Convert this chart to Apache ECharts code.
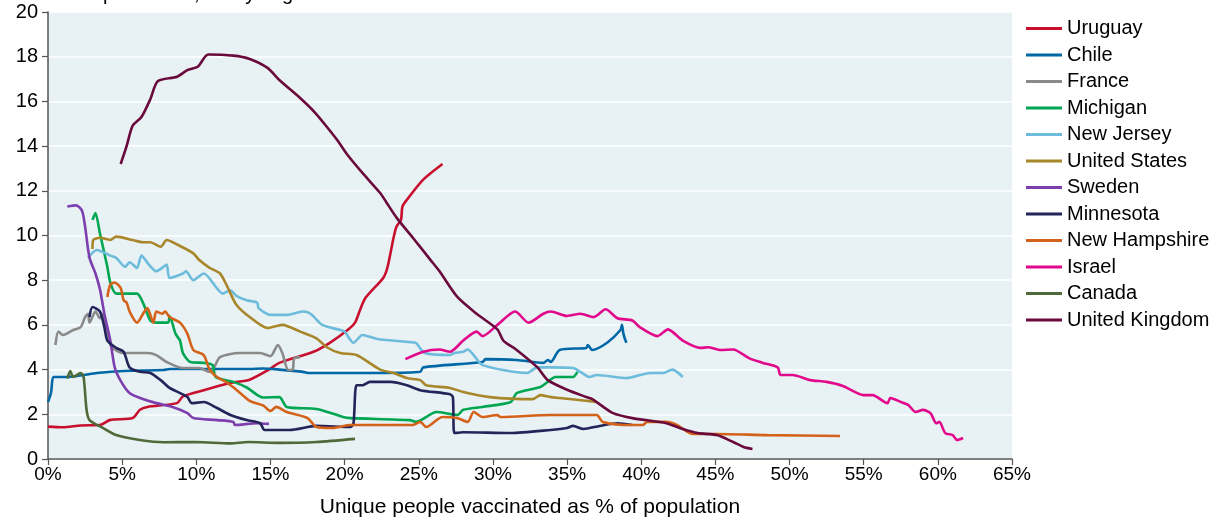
<!DOCTYPE html>
<html>
<head>
<meta charset="utf-8">
<script src="https://cdn.jsdelivr.net/npm/echarts@6/dist/echarts.min.js"></script>
<style>html,body{margin:0;padding:0;background:#fff;}#chart{width:1220px;height:521px;}</style>
</head>
<body>
<div id="chart"></div>
<script>
const seriesNames = ['Uruguay','Chile','France','Michigan','New Jersey','United States','Sweden','Minnesota','New Hampshire','Israel','Canada','United Kingdom'];
const xTickValues = [0,5,10,15,20,25,30,35,40,45,50,55,60,65];
const yTickValues = [0,2,4,6,8,10,12,14,16,18,20];

const uruguay = [[0,1.45],[1,1.42],[2.2,1.5],[3.5,1.52],[4.2,1.75],[5.7,1.83],[6.2,2.2],[6.7,2.33],[8.7,2.5],[9.1,2.8],[10.5,3.08],[12.3,3.4],[13.6,3.55],[14.9,4.0],[15.6,4.3],[17.9,4.8],[19.0,5.2],[20.2,5.77],[20.7,6.1],[21.0,6.6],[21.4,7.2],[22.6,8.1],[22.9,8.6],[23.3,9.9],[23.5,10.4],[23.8,10.7],[23.9,11.3],[24.2,11.6],[25.3,12.5],[26.6,13.2]];
const chile = [[0,2.55],[0.2,2.95],[0.4,3.67],[1.3,3.67],[2.4,3.76],[3.3,3.85],[5.1,3.94],[7.8,3.98],[8.2,4.03],[13.6,4.03],[14.5,4.05],[15.6,4.0],[17.2,3.9],[17.5,3.85],[22.6,3.85],[25.1,3.9],[25.3,4.1],[29.3,4.34],[29.5,4.47],[31.6,4.43],[33.4,4.3],[33.7,4.43],[33.9,4.34],[34.5,4.88],[36.3,4.97],[36.4,5.1],[36.7,4.88],[37.7,5.2],[38.6,5.77],[38.7,6.0],[38.8,5.6],[39.0,5.2]];
const france = [[0.5,5.1],[0.7,5.7],[1.0,5.55],[1.7,5.77],[2.2,5.9],[2.5,6.35],[2.7,6.5],[2.8,6.1],[3.2,6.6],[3.5,6.3],[3.7,6.5],[4.0,5.6],[4.3,5.0],[5.1,4.74],[6.0,4.74],[6.7,4.74],[7.3,4.65],[8.0,4.34],[9.1,4.07],[10.2,4.07],[10.9,3.9],[11.2,4.1],[11.6,4.56],[12.9,4.74],[14.3,4.74],[15.0,4.6],[15.5,5.1],[15.8,4.74],[16.2,3.98],[16.5,4.0],[16.6,4.5],[17.0,4.56]];
const michigan = [[3.0,10.7],[3.2,11.0],[3.5,10.1],[4.0,8.6],[4.2,7.9],[4.6,7.4],[6.0,7.4],[6.4,7.0],[6.9,6.2],[7.3,6.1],[8.1,6.1],[8.2,6.4],[8.6,5.6],[8.9,5.3],[9.1,4.74],[9.6,4.34],[10.5,4.3],[11.1,4.2],[11.3,3.67],[12.5,3.45],[13.4,3.2],[14.5,2.75],[15.6,2.77],[16.1,2.33],[18.1,2.24],[19.9,1.88],[20.4,1.83],[24.4,1.74],[24.8,1.66],[26.2,2.1],[27.6,1.97],[28.0,2.2],[29.3,2.33],[31.2,2.55],[31.6,2.95],[33.2,3.22],[33.7,3.45],[34.2,3.67],[35.4,3.67],[35.7,3.9]];
const newJersey = [[2.7,9.0],[3.3,9.35],[4.2,9.1],[4.6,9.0],[5.2,8.6],[5.5,8.8],[6.0,8.55],[6.3,9.1],[6.8,8.7],[7.3,8.4],[7.7,8.55],[8.0,8.7],[8.2,8.1],[9.1,8.3],[9.3,8.4],[9.8,8.0],[10.5,8.3],[11.8,7.4],[12.3,7.55],[12.7,7.3],[13.4,7.1],[14.1,7.0],[14.2,6.75],[15.0,6.45],[16.1,6.45],[17.2,6.6],[17.7,6.5],[18.5,6.0],[19.7,5.77],[20.0,5.7],[20.6,5.2],[21.2,5.55],[22.2,5.37],[24.4,5.23],[24.8,5.2],[25.4,4.74],[27.1,4.65],[27.4,4.74],[28.0,4.8],[28.3,4.9],[28.7,4.65],[29.3,4.2],[32.3,3.85],[33.0,4.1],[33.9,4.1],[35.4,4.07],[35.9,3.9],[36.5,3.67],[37.0,3.76],[39.0,3.62],[40.6,3.85],[41.5,3.85],[42.1,4.0],[42.8,3.67]];
const unitedStates = [[3.0,9.4],[3.05,9.8],[3.5,9.9],[4.2,9.8],[4.6,9.95],[5.7,9.8],[6.4,9.7],[6.9,9.7],[7.6,9.5],[8.0,9.8],[8.7,9.6],[9.8,9.2],[10.2,8.9],[10.9,8.55],[11.6,8.3],[12.1,7.7],[12.7,6.9],[13.6,6.35],[14.8,5.86],[15.4,5.95],[15.8,6.0],[17.0,5.7],[18.1,5.4],[18.8,5.0],[19.7,4.74],[20.8,4.65],[22.4,4.0],[23.3,3.85],[24.2,3.62],[25.1,3.53],[25.5,3.3],[27.1,3.18],[28.0,3.0],[29.8,2.77],[32.7,2.68],[33.2,2.86],[33.9,2.77],[34.5,2.73],[37.0,2.55]];
const sweden = [[1.3,11.3],[1.9,11.35],[2.3,11.1],[2.5,10.4],[2.8,9.0],[3.2,8.3],[3.5,7.6],[3.8,6.5],[4.2,5.3],[4.5,4.1],[4.9,3.5],[5.5,2.95],[6.2,2.73],[7.3,2.5],[8.4,2.33],[9.4,2.05],[9.8,1.83],[11.4,1.74],[12.5,1.66],[12.6,1.52],[14.1,1.6],[14.9,1.57]];
const minnesota = [[2.8,6.35],[3.0,6.8],[3.5,6.6],[3.8,5.9],[4.0,5.3],[4.6,4.97],[5.1,4.8],[5.5,4.1],[6.2,3.9],[6.9,3.85],[7.6,3.53],[8.2,3.18],[8.9,2.95],[9.4,2.77],[9.7,2.5],[10.5,2.55],[11.4,2.28],[12.3,1.97],[13.4,1.74],[14.3,1.6],[14.6,1.3],[15.4,1.3],[16.3,1.3],[18.1,1.48],[20.4,1.43],[20.6,1.6],[20.8,3.3],[21.2,3.3],[21.7,3.45],[23.1,3.45],[24.2,3.3],[25.1,3.08],[27.1,2.9],[27.3,2.77],[27.4,1.16],[28.0,1.2],[31.2,1.16],[33.9,1.3],[35.0,1.39],[35.4,1.48],[36.1,1.34],[37.2,1.48],[38.4,1.6],[39.4,1.52]];
const newHampshire = [[4.0,7.25],[4.2,7.8],[4.5,7.9],[4.9,7.65],[5.1,7.1],[5.3,7.0],[5.5,6.6],[6.0,6.1],[6.5,6.6],[6.7,6.75],[7.1,6.1],[7.3,6.6],[7.7,6.5],[7.9,6.6],[8.2,6.35],[8.9,6.1],[9.4,5.6],[9.8,4.88],[10.5,4.65],[10.9,4.0],[11.4,3.67],[12.1,3.4],[12.7,3.1],[13.6,2.6],[14.5,2.4],[15.0,2.15],[15.4,2.33],[16.1,2.1],[17.5,1.83],[18.1,1.43],[19.2,1.39],[20.4,1.52],[24.6,1.52],[25.1,1.66],[25.5,1.43],[26.6,1.88],[27.6,1.83],[28.3,1.66],[28.7,2.1],[29.3,1.88],[30.3,1.97],[30.5,1.88],[33.9,1.97],[37.0,1.97],[37.4,1.66],[39.4,1.52],[40.1,1.52],[40.4,1.66],[41.7,1.66],[42.4,1.52],[43.5,1.12],[45.1,1.12],[48.5,1.07],[53.4,1.03]];
const israel = [[24.1,4.47],[25.3,4.8],[26.4,4.9],[27.1,4.8],[28.0,5.3],[28.9,5.7],[29.3,5.5],[30.3,6.0],[31.5,6.6],[32.4,6.1],[33.4,6.5],[33.9,6.6],[35.0,6.4],[35.9,6.5],[36.8,6.35],[37.6,6.7],[38.4,6.3],[39.4,6.2],[39.9,5.9],[41.1,5.5],[41.8,5.8],[42.8,5.3],[44.0,4.97],[44.5,5.0],[45.3,4.88],[46.2,4.9],[47.3,4.5],[48.2,4.3],[49.2,4.1],[49.4,3.76],[50.2,3.76],[51.4,3.53],[52.5,3.45],[53.6,3.27],[55.0,2.86],[55.6,2.86],[56.6,2.5],[56.8,2.73],[57.5,2.55],[58.0,2.42],[58.5,2.1],[59.0,2.2],[59.5,2.05],[59.9,1.6],[60.1,1.66],[60.5,1.16],[61.0,1.07],[61.3,0.85],[61.7,0.94]];
const canada = [[1.3,3.6],[1.5,3.94],[1.7,3.67],[2.2,3.85],[2.4,3.67],[2.6,2.2],[2.8,1.74],[3.7,1.39],[4.6,1.07],[6.2,0.85],[7.8,0.75],[10.0,0.76],[12.3,0.7],[13.5,0.76],[15.6,0.72],[18.1,0.76],[20.7,0.9]];
const unitedKingdom = [[4.9,13.2],[5.3,14.0],[5.7,14.9],[6.3,15.3],[6.9,16.1],[7.4,16.9],[8.7,17.1],[9.4,17.4],[10.1,17.55],[10.8,18.1],[12.5,18.05],[13.6,17.9],[14.8,17.5],[15.6,16.96],[17.0,16.15],[18.0,15.5],[19.0,14.7],[19.5,14.27],[20.2,13.6],[21.2,12.8],[22.4,11.9],[22.8,11.5],[23.5,10.8],[24.6,9.9],[25.8,8.9],[26.4,8.4],[27.6,7.25],[28.9,6.5],[30.3,5.8],[30.7,5.3],[31.6,4.88],[33.0,4.1],[33.7,3.53],[35.0,3.1],[36.3,2.77],[36.7,2.68],[38.1,2.05],[39.4,1.83],[41.7,1.6],[42.8,1.34],[43.8,1.16],[45.1,1.07],[46.2,0.76],[46.9,0.54],[47.5,0.45]];

const seriesData = [uruguay, chile, france, michigan, newJersey, unitedStates, sweden, minnesota, newHampshire, israel, canada, unitedKingdom];
const seriesColors = ['#c8102e','#0068a6','#8a8a8a','#00a651','#6dbcdc','#a8862a','#7d3fae','#23245a','#d4621a','#e2088c','#4f6a38','#6a0a3c'];

const chart = echarts.init(document.getElementById('chart'), null, {renderer: 'canvas'});
const font = '"Liberation Sans", Arial, sans-serif';
const narrow = '"Liberation Sans Narrow", "Arial Narrow", "Liberation Sans", Arial, sans-serif';

chart.setOption({
  animation: false,
  backgroundColor: '#ffffff',
  graphic: [{
    type: 'text', left: 34, top: -16,
    style: {text: 'Deaths per million, 7-day avg', fontSize: 20, fontFamily: font, fill: '#000'}
  }],
  grid: {left: 48, right: 208, top: 12, bottom: 62, show: true, backgroundColor: '#e8f1f4', borderWidth: 0,
    containLabel: false, outerBoundsMode: 'none'},
  legend: {
    orient: 'vertical', left: 1026, top: 18, padding: 0,
    icon: 'rect', itemWidth: 36, itemHeight: 3, itemGap: 5.5,
    textStyle: {fontSize: 20, fontFamily: font, color: '#000', lineHeight: 21},
    data: seriesNames
  },
  xAxis: {
    type: 'value', min: 0, max: 65, interval: 5,
    name: 'Unique people vaccinated as % of population', nameLocation: 'middle', nameGap: 38,
    nameTextStyle: {fontSize: 21, fontFamily: narrow, color: '#000'},
    axisLine: {show: true, lineStyle: {color: '#555', width: 1.5}},
    axisTick: {show: true, length: 6, lineStyle: {color: '#555', width: 1.2}},
    axisLabel: {fontSize: 19, fontFamily: narrow, color: '#000', margin: 6, formatter: '{value}%',
      customValues: xTickValues},
    splitLine: {show: false}
  },
  yAxis: {
    type: 'value', min: 0, max: 20, interval: 2,
    axisLine: {show: true, lineStyle: {color: '#555', width: 1.5}},
    axisTick: {show: true, length: 6, lineStyle: {color: '#555', width: 1.2}},
    axisLabel: {fontSize: 20, fontFamily: font, color: '#000', margin: 10, customValues: yTickValues},
    splitLine: {show: true, lineStyle: {color: '#ffffff', width: 1.5}}
  },
  series: seriesNames.map((name, i) => ({
    name: name, type: 'line', data: seriesData[i], color: seriesColors[i],
    showSymbol: false, symbol: 'none', smooth: 0.25,
    lineStyle: {width: 2.6, color: seriesColors[i]},
    emphasis: {disabled: true}
  }))
});
</script>
</body>
</html>
